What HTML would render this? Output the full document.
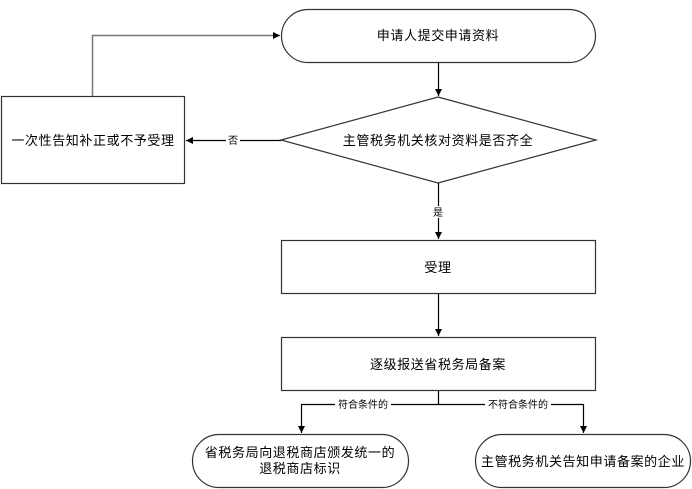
<!DOCTYPE html>
<html><head><meta charset="utf-8"><style>
html,body{margin:0;padding:0;background:#fff;}
svg{display:block;}
text{font-family:"Liberation Sans","Noto Sans CJK SC","WenQuanYi Zen Hei",sans-serif;fill:#000;}
.m{letter-spacing:0.6px;}
</style></head><body>
<svg width="692" height="489" viewBox="0 0 692 489" xmlns="http://www.w3.org/2000/svg">
<defs>
<marker id="a" markerWidth="8" markerHeight="8" refX="7" refY="4" orient="auto" markerUnits="userSpaceOnUse">
<path d="M0,0.5 L7,4 L0,7.5 Z" fill="#000"/>
</marker>
</defs>
<g fill="#fff" stroke="#333" stroke-width="1.2">
<rect x="281.5" y="9.5" width="314" height="53" rx="26.5" ry="26.5"/>
<polygon points="438,97 596,140 438,183 281,140"/>
<rect x="1.5" y="96.5" width="183" height="87"/>
<rect x="281.5" y="240.5" width="314" height="53"/>
<rect x="281.5" y="337.5" width="314" height="53"/>
<rect x="192.5" y="434.5" width="216" height="53" rx="26.5" ry="26.5"/>
<rect x="475.5" y="434.5" width="215" height="53" rx="26.5" ry="26.5"/>
</g>
<g fill="none" stroke="#000" stroke-width="1.2">
<line x1="438.5" y1="62" x2="438.5" y2="96" marker-end="url(#a)"/>
<line x1="281" y1="140.5" x2="186" y2="140.5" marker-end="url(#a)"/>
<line x1="438.5" y1="183" x2="438.5" y2="239" marker-end="url(#a)"/>
<line x1="438.5" y1="294" x2="438.5" y2="336" marker-end="url(#a)"/>
<polyline points="438.5,391 438.5,404.5 301.5,404.5 301.5,433" marker-end="url(#a)"/>
<polyline points="438.5,404.5 583.5,404.5 583.5,433" marker-end="url(#a)"/>
</g>
<polyline points="92.5,96 92.5,35.5 280,35.5" fill="none" stroke="#777" stroke-width="1.5" marker-end="url(#a)"/>
<g font-size="13" text-anchor="middle" class="m">
<text x="438" y="40">申请人提交申请资料</text>
<text x="438" y="145">主管税务机关核对资料是否齐全</text>
<text x="93" y="145">一次性告知补正或不予受理</text>
<text x="438" y="272">受理</text>
<text x="438" y="369">逐级报送省税务局备案</text>
<text x="300" y="457">省税务局向退税商店颁发统一的</text>
<text x="300" y="473">退税商店标识</text>
<text x="583" y="466">主管税务机关告知申请备案的企业</text>
</g>
<g font-size="10" text-anchor="middle">
<rect x="226" y="134" width="14" height="12" fill="#fff"/>
<text x="233" y="144">否</text>
<rect x="432" y="206" width="13" height="12" fill="#fff"/>
<text x="438" y="216">是</text>
<rect x="335" y="398" width="56" height="12" fill="#fff"/>
<text x="363" y="408">符合条件的</text>
<rect x="485" y="398" width="66" height="12" fill="#fff"/>
<text x="518" y="408">不符合条件的</text>
</g>
</svg>
</body></html>
